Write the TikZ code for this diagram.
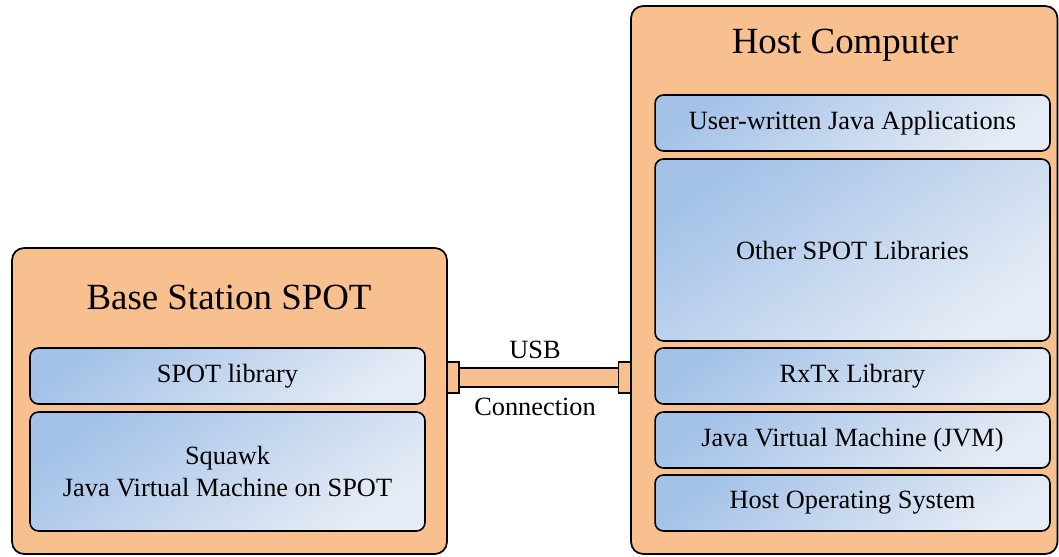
\documentclass[tikz,border=0pt]{standalone}
\usepackage{fontspec}
\setmainfont{Liberation Serif}
\usepackage{xcolor}
\definecolor{boxorange}{RGB}{248,191,143}
\definecolor{layerdark}{RGB}{164,194,232}
\definecolor{layerlight}{RGB}{230,236,245}

\begin{document}
\begin{tikzpicture}[x=0.02cm, y=-0.02cm,
    unit/.style={draw, line width=1pt, fill=boxorange, rounded corners=0.24cm, inner sep=0pt},
    layer/.style={draw, line width=0.9pt, rounded corners=0.17cm, inner sep=0pt,
      minimum width=7.9cm, top color=layerdark, bottom color=layerlight, shading angle=35,
      align=center, font=\fontsize{15}{18}\selectfont},
    title/.style={font=\fontsize{21}{25}\selectfont},
    plug/.style={draw, line width=1pt, fill=boxorange, inner sep=0pt, minimum width=0.24cm, minimum height=0.62cm},
    lbl/.style={font=\fontsize{15}{18}\selectfont}]
      \useasboundingbox (0,0) rectangle (1059,556);
      % base station
      \node [unit, minimum width=8.7cm, minimum height=6.12cm] (base) at (229.5, 401) {};
      \node [title] (basetitle) at (229, 297) {Base Station SPOT};
      \node [layer, minimum height=1.12cm] (spotlib) at (227.5, 376) {SPOT library};
      \node [layer, minimum height=2.38cm] (squawk) at (227.5, 471.5) {Squawk\\Java Virtual Machine on SPOT};
      % host computer
      \node [unit, minimum width=8.53cm, minimum height=10.96cm] (host) at (844.25, 280) {};
      \node [title] (hosttitle) at (845, 45) {Host Computer};
      \node [layer, minimum height=1.12cm] (userapp) at (852.5, 123) {User-written Java Applications};
      \node [layer, minimum height=3.64cm] (otherlib) at (852.5, 250) {Other SPOT Libraries};
      \node [layer, minimum height=1.12cm] (rxtx) at (852.5, 376) {RxTx Library};
      \node [layer, minimum height=1.12cm] (jvm) at (852.5, 440) {Java Virtual Machine (JVM)};
      \node [layer, minimum height=1.12cm] (hostos) at (852.5, 503) {Host Operating System};
      % usb cable
      \node [plug] (plugL) at (453, 377.5) {};
      \node [plug] (plugR) at (624.5, 377.5) {};
      \draw [line width=1pt, double=boxorange, double distance=0.35cm] (plugL.east) -- (plugR.west);
      \node [lbl] (usb) at (535, 350) {USB};
      \node [lbl] (conn) at (535, 407) {Connection};
    \end{tikzpicture}
\end{document}
